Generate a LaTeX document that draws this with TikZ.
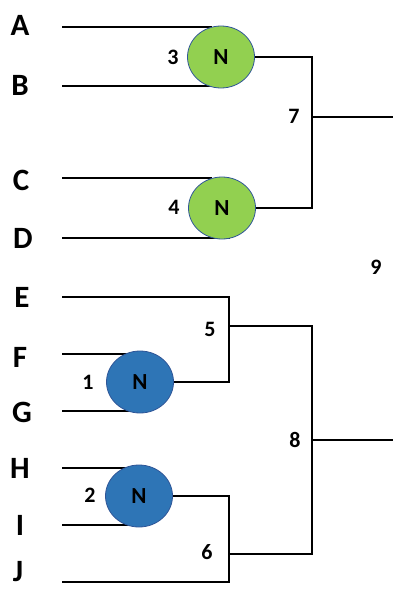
\documentclass[tikz,border=0pt]{standalone}
\usepackage{fontspec}
\setmainfont{Carlito}
\usetikzlibrary{backgrounds,calc,shapes.geometric}
\definecolor{ngreen}{HTML}{92D050}
\definecolor{nblue}{HTML}{2E75B6}
\definecolor{nedge}{HTML}{2F5597}
\tikzset{
  leaf/.style={font=\bfseries\fontsize{31}{36}\selectfont, inner sep=0pt},
  num/.style={font=\bfseries\fontsize{22}{26}\selectfont, inner sep=0pt},
  gnode/.style={ellipse, draw=nedge, line width=0.8pt, fill=ngreen, minimum width=67pt, minimum height=62pt, inner sep=0pt, font=\bfseries\fontsize{23}{27}\selectfont},
  bnode/.style={gnode, fill=nblue},
  wire/.style={line width=2pt, black}
}
\begin{document}
\begin{tikzpicture}[x=1pt,y=-1pt]
\useasboundingbox (0,0) rectangle (393,589);
% leaves
\node[leaf] (A) at (20,25) {A};
\node[leaf] (B) at (20,85) {B};
\node[leaf] (C) at (21,180) {C};
\node[leaf] (D) at (23,238) {D};
\node[leaf] (E) at (22,297) {E};
\node[leaf] (F) at (20,357) {F};
\node[leaf] (G) at (22,412) {G};
\node[leaf] (H) at (20,468) {H};
\node[leaf] (I) at (20,525) {I};
\node[leaf] (J) at (18,572) {J};
% wire starts
\coordinate (sA) at (62,26.5);
\coordinate (sB) at (62,86);
\coordinate (sC) at (62,178);
\coordinate (sD) at (62,238);
\coordinate (sE) at (62,297);
\coordinate (sF) at (62,354);
\coordinate (sG) at (62,411);
\coordinate (sH) at (62,468);
\coordinate (sI) at (62,525);
\coordinate (sJ) at (62,582);
% N nodes
\node[gnode] (n3) at (221,57) {N};
\node[gnode] (n4) at (222,208) {N};
\node[bnode] (n1) at (140,382) {N};
\node[bnode] (n2) at (139,496) {N};
% junctions
\coordinate (j7) at (312,117);
\coordinate (o7) at (393,117);
\coordinate (j5) at (229,326);
\coordinate (j6) at (229,554);
\coordinate (j8) at (312,440);
\coordinate (o8) at (393,440);
% number labels
\node[num] (l3) at (173,57) {3};
\node[num] (l4) at (174,207) {4};
\node[num] (l7) at (294,116) {7};
\node[num] (l1) at (88,382) {1};
\node[num] (l2) at (90,495) {2};
\node[num] (l5) at (210,329) {5};
\node[num] (l6) at (207,552) {6};
\node[num] (l8) at (295,440) {8};
\node[num] (l9) at (376,267) {9};
\begin{scope}[on background layer]
\draw[wire] (sA) -- ($(sA -| n3.north)+(-9,0)$);
\draw[wire] (sB) -- (sB -| n3.south);
\draw[wire] (sC) -- ($(sC -| n4.north)+(-10,0)$);
\draw[wire] (sD) -- ($(sD -| n4.south)+(8,0)$);
\draw[wire] (sF) -- ($(sF -| n1.north)+(-10,0)$);
\draw[wire] (sG) -- (sG -| n1.south);
\draw[wire] (sH) -- ($(sH -| n2.north)+(-9,0)$);
\draw[wire] (sI) -- ($(sI -| n2.south)+(8,0)$);
\draw[wire] (n3.east) -| (j7) |- (n4.east);
\draw[wire] (j7) -- (o7);
\draw[wire] (sE) -| (j5) |- (n1.east);
\draw[wire] (n2.east) -| (j6) |- (sJ);
\draw[wire] (j5) -| (j8) |- (j6);
\draw[wire] (j8) -- (o8);
\end{scope}
\end{tikzpicture}
\end{document}
